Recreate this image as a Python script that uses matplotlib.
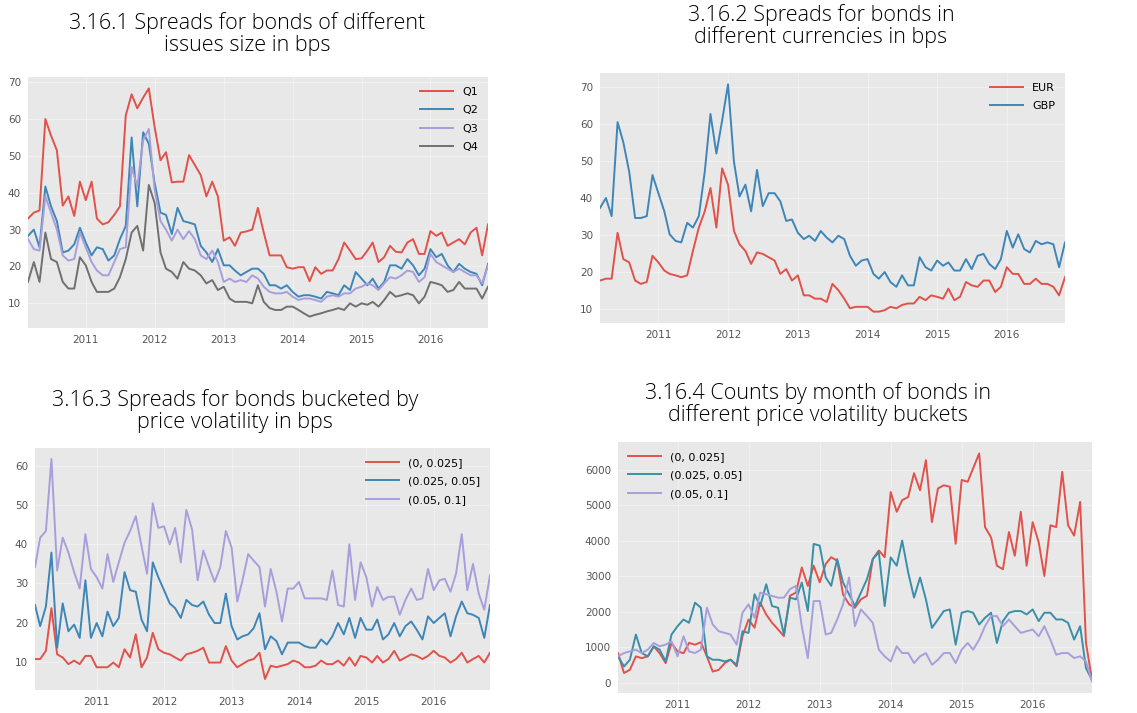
import pandas as pd
import matplotlib.pyplot as plt
import matplotlib.dates as mdates

plt.style.use('ggplot')

# 3.16.1 spreads by issue size quartile (bps), monthly
q1 = [33, 34.6, 35.2, 60, 55.5, 51.5, 36.5, 39, 33.7, 43, 38, 43, 33, 31.4, 32, 34, 36.3, 61, 66.7, 62.9,
      65.8, 68.3, 57.8, 48.8, 51, 42.8, 43, 43, 50.2, 47.5, 44.8, 39, 43, 39, 27, 27.9, 25.6, 29.2, 29.5, 30,
      35.9, 29.2, 23, 23, 23, 19.8, 19.4, 19.8, 19.8, 16, 19.8, 18, 18.9, 18.9, 22, 26.5, 24.3, 22, 22.2, 24.3,
      26.5, 21.2, 22.5, 25.6, 24, 23.8, 26.5, 27.4, 23.4, 23.4, 29.6, 28.3, 29.2, 25.6, 26.5, 27.4, 26, 29.2, 30.5, 23,
      31.4]
q2 = [28.3, 30, 25.2, 41.7, 36.3, 32.3, 23.8, 24.3, 26, 30.5, 26.5, 23, 25.2, 24.7, 21.6, 23, 27.4, 31, 55, 36.3,
      56.4, 53.3, 42.6, 34.6, 34, 28.8, 35.9, 32.3, 31.9, 31.4, 25.6, 23.8, 21.2, 24.7, 20.3, 20.3, 18.9, 17.6, 18.5, 19.4,
      19.4, 18, 14.9, 14.9, 14, 14.9, 13.1, 11.8, 12.2, 12.2, 11.8, 11.3, 13.1, 12.7, 12.2, 14.9, 13.6, 18.5, 16.7, 14.9,
      16.7, 14, 15.8, 20.3, 20.3, 19.4, 22, 20.3, 17.6, 19.4, 24.7, 22.5, 23.4, 20.3, 18.5, 20.7, 19.4, 18.5, 18, 14.9,
      20.7]
q3 = [27.4, 24.7, 24.3, 39, 34.6, 30, 23, 21.6, 22, 29.2, 25.2, 21.2, 18.9, 17.6, 17.6, 21.2, 24.7, 25.2, 47, 41.7,
      54.2, 57.3, 40.8, 32.3, 30, 27, 30, 27.4, 29.6, 27.4, 23, 22, 24.3, 21.2, 15.8, 16.7, 15.8, 16.3, 15.8, 17.6,
      16.7, 14.5, 13.1, 12.7, 12.7, 13.1, 11.8, 10.9, 11.3, 11.3, 10.9, 10.4, 11.8, 12.2, 11.8, 12.7, 12.7, 14, 14.5, 15.4,
      14.9, 13.6, 15.4, 17.1, 16.7, 17.6, 18.9, 18.5, 15.8, 17.1, 23.4, 21.2, 20.3, 19.4, 18.5, 19.4, 18.5, 17.6, 17.6, 15.4,
      20.3]
q4 = [15.8, 21.2, 15.8, 29.2, 22, 21.2, 15.8, 14, 14, 22.5, 20.3, 15.8, 13.1, 13.1, 13.1, 14, 17.1, 22, 29.2, 31,
      24.3, 42.1, 37.2, 23.8, 19.4, 18.5, 16.7, 21.2, 19.4, 18.9, 17.6, 15.4, 16.3, 13.6, 14.5, 11.3, 10.4, 10.4, 10.4, 10,
      14.9, 10.4, 8.7, 8.2, 8.2, 9.1, 9.1, 8.2, 7.3, 6.4, 6.9, 7.3, 7.8, 8.2, 8.7, 8.2, 10, 9.1, 10, 9.6,
      10.4, 9.1, 10.9, 13.1, 11.8, 12.2, 12.7, 12.2, 10, 11.8, 15.8, 15.4, 14.9, 13.1, 13.6, 15.8, 14, 14, 14, 11.3,
      14.5]

# 3.16.2 spreads by currency (bps)
eur = [17.7, 18.2, 18.2, 30.6, 23.5, 22.6, 17.7, 16.8, 17.3, 24.4, 22.6, 20.4, 19.5, 19.1, 18.6, 19.1, 25.7, 32, 36.4, 42.7,
       32, 48, 43.6, 31.1, 27.5, 25.7, 22.2, 25.3, 24.9, 24, 23.1, 19.5, 20.8, 17.7, 19.1, 13.7, 13.7, 12.8, 12.8, 11.9,
       16.8, 15.1, 12.8, 10.2, 10.6, 10.6, 10.6, 9.3, 9.3, 9.7, 10.6, 10.2, 11.1, 11.5, 11.5, 13.3, 12.4, 13.7, 13.3, 12.8,
       15.5, 12.4, 13.3, 17.3, 16.4, 16, 17.7, 17.7, 14.6, 16, 21.3, 19.5, 19.5, 16.8, 16.8, 18.2, 16.8, 16.8, 16, 13.7,
       18.6]
gbp = [37.3, 40, 35.1, 60.5, 55.1, 47.1, 34.6, 34.6, 35.1, 46.2, 41.3, 36.4, 30.2, 28.4, 28, 33.3, 32, 35.1, 47.1, 62.7,
       52, 60.9, 70.7, 49.8, 40.4, 43.6, 36.4, 47.6, 37.8, 41.3, 41.3, 39.1, 33.8, 34.2, 30.6, 28.9, 29.8, 28.4, 31.1, 29.3,
       28, 29.8, 28.9, 24.4, 21.7, 23.1, 23.5, 19.5, 18.2, 20, 17.3, 16, 19.1, 16.4, 16.4, 24, 21.3, 20.4, 23.1, 21.7,
       22.6, 20.4, 20.4, 23.5, 20.8, 24.4, 24.9, 22.2, 20.8, 23.5, 31.1, 26.6, 30.2, 26.2, 25.3, 28.4, 27.5, 28, 27.5, 21.3,
       28]

# 3.16.3 spreads by price volatility bucket (bps)
vol_lo = [10.7, 10.7, 12.8, 23.7, 11.9, 11.1, 9.4, 10.3, 9.4, 11.5, 11.5, 8.6, 8.6, 8.6, 9.8, 8.6, 13.2, 11.1, 17, 8.6,
          11.1, 17.4, 13.2, 12.3, 11.9, 11.1, 10.3, 11.9, 12.3, 12.8, 13.6, 9.8, 9.8, 9.8, 14, 10.3, 8.6, 9.4, 10.3, 10.7,
          12.3, 5.6, 9, 8.6, 9, 9.4, 10.3, 9.8, 8.6, 8.6, 9, 10.3, 9.4, 9.4, 10.3, 9, 11.1, 9, 11.5, 11.1,
          9.8, 11.5, 9.8, 10.7, 12.8, 10.3, 11.1, 11.9, 11.5, 10.7, 11.5, 12.8, 11.5, 11.1, 9.8, 10.7, 12.3, 9.8, 10.7, 11.5,
          9.8, 12.3]
vol_mid = [24.5, 19.1, 24.1, 37.9, 13.6, 24.9, 17.8, 19.5, 16.1, 30.8, 16.1, 19.9, 16.5, 22.8, 19.1, 21.2, 32.9, 28.3, 27.9, 20.8,
           17.8, 35.4, 31.6, 28.3, 24.9, 23.7, 21.2, 25.8, 24.5, 24.1, 25.4, 22, 19.9, 19.9, 27.4, 19.1, 15.7, 16.5, 17, 18.6,
           22.4, 13.2, 16.5, 15.3, 11.9, 14.9, 14.9, 14.9, 14, 13.6, 13.6, 15.7, 14.4, 16.5, 19.9, 17, 21.2, 16.1, 21.2, 18.2,
           18.2, 20.8, 15.7, 17, 19.9, 16.5, 19.1, 20.3, 18.2, 15.7, 21.6, 19.9, 21.2, 22.4, 16.5, 21.6, 25.4, 22.4, 22, 21.2,
           16.1, 24.5]
vol_hi = [34.2, 41.7, 43.4, 61.8, 33.3, 41.7, 37.9, 32.9, 28.7, 42.6, 33.7, 31.6, 28.7, 37.5, 30.4, 35.4, 40.4, 43.4, 47.2, 39.6,
          32.5, 50.5, 44.2, 44.6, 40, 44.2, 35.4, 48.8, 43.8, 30.8, 38.4, 34.2, 30.4, 34.2, 43.4, 39.2, 25.4, 30.8, 37.5, 35.8,
          34.2, 24.1, 33.7, 27.9, 20.3, 28.7, 28.7, 30.4, 26.2, 26.2, 26.2, 26.2, 25.8, 33.3, 24.5, 24.1, 40, 25.8, 35.4, 31.6,
          24.1, 29.1, 25.8, 26.6, 26.6, 22, 25.8, 28.7, 25.8, 26.2, 33.7, 28.3, 30.8, 31.2, 27.9, 32.5, 42.6, 28.3, 35, 27.4,
          23.3, 32.1]

# 3.16.4 monthly bond counts per volatility bucket
cnt_lo = [830, 270, 360, 740, 690, 740, 1020, 830, 550, 1120, 880, 830, 1120, 1070, 1140, 740, 310, 360, 550, 650,
          460, 1310, 1780, 1550, 2260, 1920, 1690, 1500, 1310, 2450, 2540, 3250, 2730, 3300, 2830, 3350, 3540, 3440, 2490, 2210,
          2110, 2350, 2450, 3490, 3730, 3540, 5380, 4820, 5150, 5240, 5910, 5430, 6280, 4530, 5480, 5570, 5530, 3920, 5720, 5670,
          6050, 6470, 4390, 4100, 3300, 3200, 4250, 3580, 4820, 3300, 4530, 3960, 3010, 4440, 4390, 5950, 4440, 4150, 5100, 1120,
          80]
cnt_mid = [740, 455, 645, 1355, 834, 740, 1024, 929, 597, 1355, 1592, 1782, 1687, 2256, 2114, 740, 645, 645, 597, 645,
           502, 1450, 1403, 2493, 2161, 2777, 2161, 2114, 1355, 2398, 2351, 2825, 2019, 3915, 3867, 2967, 2730, 3488, 2825, 2493,
           2161, 2540, 2919, 3488, 3678, 2161, 3535, 3299, 4009, 3109, 2398, 2967, 2351, 1545, 1782, 2019, 2066, 1071, 1972, 2019,
           1972, 1640, 1829, 1972, 1118, 1735, 1972, 2019, 2019, 1924, 2066, 1735, 1972, 1972, 1782, 1782, 1687, 1213, 1592, 408,
           76]
cnt_hi = [740, 834, 880, 929, 834, 929, 1118, 1024, 1071, 1166, 740, 1308, 880, 834, 929, 2114, 1640, 1450, 1403, 1355,
          1071, 1972, 2209, 1829, 2540, 2493, 2445, 2398, 2398, 2635, 2730, 1592, 692, 2303, 2303, 1355, 1403, 1782, 2209, 2967,
          1592, 2066, 1877, 1687, 929, 740, 597, 1024, 834, 834, 550, 740, 834, 502, 645, 834, 834, 550, 929, 1118,
          929, 1213, 1592, 1877, 1877, 1592, 1782, 1592, 1403, 1450, 1498, 1308, 1592, 1213, 787, 834, 834, 692, 740, 597,
          28]

bucket_labels = ['(0, 0.025]', '(0.025, 0.05]', '(0.05, 0.1]']

RED = '#E0524A'
BLUE = '#3E86B8'
PURPLE = '#A79FDC'
GREY = '#707070'

W, H = 1137, 713
fig = plt.figure(figsize=(W / 100, H / 100), dpi=100)
fig.patch.set_facecolor('white')


def monthly(start, values):
    idx = pd.date_range(start, periods=len(values), freq='MS')
    return idx, values


def panel(left, top, right, bottom, series, loc, title, tx, ty):
    ax = fig.add_axes([left / W, 1 - bottom / H, (right - left) / W, (bottom - top) / H])
    ax.set_facecolor('#E8E8E8')
    x0, x1 = None, None
    for start, vals, color, label in series:
        idx, v = monthly(start, vals)
        ax.plot(idx, v, color=color, lw=1.4, label=label)
        x0 = idx[0] if x0 is None else min(x0, idx[0])
        x1 = idx[-1] if x1 is None else max(x1, idx[-1])
    ax.set_xlim(x0, x1)
    ax.xaxis.set_major_locator(mdates.YearLocator())
    ax.xaxis.set_major_formatter(mdates.DateFormatter('%Y'))
    ax.grid(True, color='white', lw=0.8, alpha=0.35)
    ax.tick_params(axis='both', length=0, labelsize=7.5, labelcolor='#555555', pad=5)
    for s in ax.spines.values():
        s.set_visible(False)
    ax.legend(loc=loc, frameon=False, fontsize=8, handlelength=3, labelspacing=0.75)
    fig.text(tx / W, 1 - ty / H, title, ha='center', va='center', multialignment='center',
             fontsize=15.5, fontfamily='Open Sans', fontweight='light', color='black', linespacing=1.05)
    return ax


panel(28, 77, 488, 328,
      [('2010-03-01', q1, RED, 'Q1'), ('2010-03-01', q2, BLUE, 'Q2'),
       ('2010-03-01', q3, PURPLE, 'Q3'), ('2010-03-01', q4, GREY, 'Q4')],
      'upper right', '3.16.1 Spreads for bonds of different\nissues size in bps', 247, 34)

panel(600, 73, 1065, 323,
      [('2010-03-01', eur, RED, 'EUR'), ('2010-03-01', gbp, BLUE, 'GBP')],
      'upper right', '3.16.2 Spreads for bonds in\ndifferent currencies in bps', 821, 26)

panel(35, 448, 490, 690,
      [('2010-02-01', vol_lo, RED, bucket_labels[0]), ('2010-02-01', vol_mid, BLUE, bucket_labels[1]),
       ('2010-02-01', vol_hi, PURPLE, bucket_labels[2])],
      'upper right', '3.16.3 Spreads for bonds bucketed by\nprice volatility in bps', 235, 411)

panel(618, 442, 1092, 693,
      [('2010-03-01', cnt_lo, RED, bucket_labels[0]), ('2010-03-01', cnt_mid, '#3A8FA8', bucket_labels[1]),
       ('2010-03-01', cnt_hi, PURPLE, bucket_labels[2])],
      'upper left', '3.16.4 Counts by month of bonds in\ndifferent price volatility buckets', 818, 404)

fig.savefig('out.png', dpi=100, facecolor='white')
